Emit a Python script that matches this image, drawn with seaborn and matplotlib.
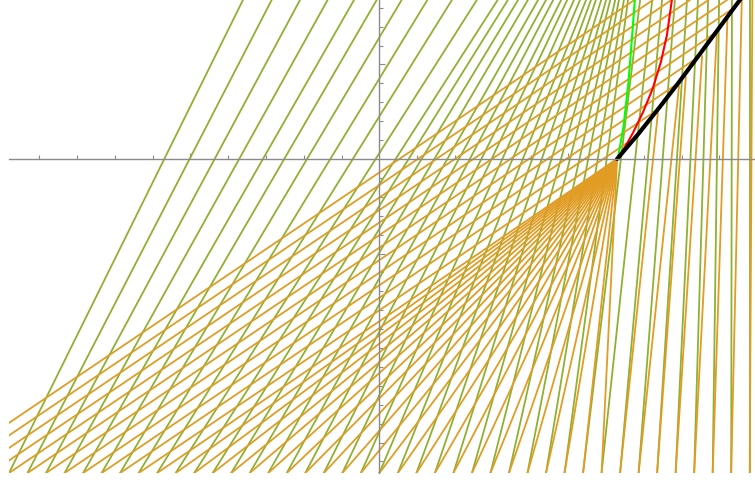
import numpy as np
import pandas as pd
import matplotlib
matplotlib.use("Agg")
import matplotlib.pyplot as plt
import seaborn as sns

# Plot range
x_min, x_max = -0.98, 0.994
y_bot, y_top = -1.661, 0.841

# Green family: start x at the bottom, x where each line leaves the top edge
green_x0 = [-0.980, -0.931, -0.882, -0.833, -0.784, -0.735, -0.686, -0.637, -0.588, -0.539,
            -0.490, -0.441, -0.392, -0.343, -0.294, -0.245, -0.196, -0.147, -0.098, -0.049,
            0.000, 0.049, 0.098, 0.147, 0.196, 0.245, 0.294, 0.343, 0.392, 0.441,
            0.490, 0.539, 0.588, 0.637, 0.686, 0.735, 0.784, 0.833, 0.882, 0.931, 0.980]
green_xtop = [-0.361, -0.285, -0.210, -0.137, -0.067, -0.007, 0.059, 0.127, 0.192, 0.258,
              0.313, 0.340, 0.367, 0.393, 0.420, 0.441, 0.460, 0.481, 0.497, 0.515,
              0.531, 0.547, 0.560, 0.573, 0.587, 0.600, 0.611, 0.624, 0.634, 0.647,
              0.658, 0.690, 0.722, 0.748, 0.782, 0.814, 0.843, 0.870, 0.899, 0.933, 0.980]

# Orange family: start x at the bottom and end point of each line
orange_x0 = [-1.176, -1.127, -1.078, -1.029] + green_x0
orange_xend = [0.675, 0.724, 0.773, 0.822, 0.871, 0.920, 0.938, 0.889, 0.840, 0.791, 0.737, 0.679] \
    + [0.629] * 25 \
    + [0.737, 0.793, 0.811, 0.854, 0.893, 0.921, 0.959, 0.987]
orange_yend = [0.841, 0.841, 0.841, 0.841, 0.841, 0.841, 0.799, 0.667, 0.534, 0.401, 0.262, 0.117] \
    + [0.0] * 25 \
    + [0.243, 0.386, 0.434, 0.545, 0.661, 0.741, 0.841, 0.841]

# Curves starting at the focus point
black_x = [0.629, 0.685, 0.740, 0.793, 0.846, 0.899, 0.954, 0.965]
black_y = [0.0, 0.132, 0.270, 0.407, 0.550, 0.693, 0.841, 0.868]
red_x = [0.629, 0.650, 0.671, 0.698, 0.724, 0.745, 0.761, 0.774, 0.776]
red_y = [0.0, 0.063, 0.138, 0.249, 0.376, 0.513, 0.656, 0.841, 0.868]
lime_x = [0.629, 0.632, 0.646, 0.659, 0.668, 0.676, 0.678]
lime_y = [0.0, 0.012, 0.171, 0.401, 0.630, 0.841, 0.868]

GREEN = "#8FB032"
ORANGE = "#E19C24"


def segments(x0, x1, y1):
    rows = []
    for i, (a, b, c) in enumerate(zip(x0, x1, y1)):
        rows.append({"line": i, "x": a, "y": y_bot})
        rows.append({"line": i, "x": b, "y": c})
    return pd.DataFrame(rows)


green_df = segments(green_x0, green_xtop, [y_top] * len(green_x0))
orange_df = segments(orange_x0, orange_xend, orange_yend)

sns.set_style("white")
fig = plt.figure(figsize=(7.55, 4.83), dpi=100)
ax = fig.add_axes([9 / 755, 10 / 483, 746 / 755, 473 / 483])

sns.lineplot(data=green_df, x="x", y="y", units="line", estimator=None, sort=False,
             color=GREEN, lw=1.3, legend=False, ax=ax)
sns.lineplot(data=orange_df, x="x", y="y", units="line", estimator=None, sort=False,
             color=ORANGE, lw=1.3, legend=False, ax=ax)
sns.lineplot(x=lime_x, y=lime_y, sort=False, color="#00FF00", lw=1.5, ax=ax)
sns.lineplot(x=red_x, y=red_y, sort=False, color="#FF0000", lw=1.5, ax=ax)
sns.lineplot(x=black_x, y=black_y, sort=False, color="black", lw=3, ax=ax)

ax.set_xlim(x_min, x_max)
ax.set_ylim(y_bot, y_top)
ax.set_xlabel("")
ax.set_ylabel("")
for s in ["top", "right"]:
    ax.spines[s].set_visible(False)
ax.spines["left"].set_position(("data", 0))
ax.spines["bottom"].set_position(("data", 0))
for s in ["left", "bottom"]:
    ax.spines[s].set_color("#8a8a8a")
    ax.spines[s].set_linewidth(1.0)

xt = [v / 10 for v in range(-9, 10) if v != 0]
yt = [v / 10 for v in range(-16, 9) if v != 0]
ax.set_xticks([-0.5, 0.5])
ax.set_xticks(xt, minor=True)
ax.set_yticks([-1.5, -1.0, -0.5, 0.5])
ax.set_yticks(yt, minor=True)
ax.tick_params(which="both", direction="in", colors="#8a8a8a", bottom=True, left=True,
               labelbottom=False, labelleft=False)
ax.tick_params(which="major", length=4.5, width=0.8)
ax.tick_params(which="minor", length=3, width=0.8)
ax.patch.set_alpha(0)

fig.savefig("out.png", dpi=100)
